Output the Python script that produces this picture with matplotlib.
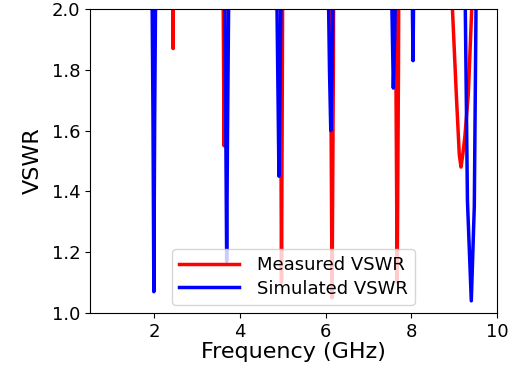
import matplotlib
matplotlib.use("Agg")
import matplotlib.pyplot as plt

# measured VSWR (values above 2.0 lie outside the view)
meas_f = [0.5, 2.40, 2.44, 2.47, 3.58, 3.61, 3.63, 3.65, 3.68,
          4.92, 4.95, 4.97, 4.99, 5.02, 6.09, 6.12, 6.15, 6.18, 6.21,
          7.61, 7.64, 7.67, 7.70, 7.73,
          8.90, 8.96, 9.05, 9.12, 9.16, 9.20, 9.25, 9.33, 9.41, 9.46, 10.0]
meas_v = [5.0, 3.0, 1.87, 3.0, 3.0, 2.0, 1.55, 2.0, 3.0,
          3.0, 1.8, 1.10, 1.8, 3.0, 3.0, 1.8, 1.05, 1.8, 3.0,
          3.0, 1.8, 1.10, 1.8, 3.0,
          2.4, 2.0, 1.72, 1.52, 1.48, 1.52, 1.58, 1.72, 2.0, 3.0, 5.0]

# simulated VSWR
sim_f = [0.5, 1.93, 1.97, 1.99, 2.01, 2.05, 3.62, 3.67, 3.69, 3.71, 3.76,
         4.84, 4.89, 4.91, 4.93, 4.98, 6.04, 6.09, 6.12, 6.15, 6.20,
         7.51, 7.56, 7.58, 7.61, 7.66, 8.00, 8.04, 8.07,
         9.22, 9.26, 9.31, 9.40, 9.47, 9.51, 9.56, 10.0]
sim_v = [5.0, 2.4, 1.65, 1.07, 1.65, 2.4, 2.4, 1.6, 1.17, 1.6, 2.4,
         2.3, 1.7, 1.45, 1.7, 2.3, 2.3, 1.8, 1.60, 1.8, 2.3,
         2.3, 1.9, 1.74, 1.9, 2.3, 2.3, 1.83, 2.3,
         2.6, 2.0, 1.37, 1.04, 1.35, 2.0, 2.6, 5.0]

fig = plt.figure(figsize=(5.1, 3.66), dpi=100)
ax = fig.add_axes([90 / 510, 53 / 366, 407 / 510, 304 / 366])

ax.plot(meas_f, meas_v, color="red", lw=2.5, label="Measured VSWR")
ax.plot(sim_f, sim_v, color="blue", lw=2.5, label="Simulated VSWR")

ax.set_xlim(0.5, 10)
ax.set_ylim(1.0, 2.0)
ax.set_xticks([2, 4, 6, 8, 10])
ax.set_yticks([1.0, 1.2, 1.4, 1.6, 1.8, 2.0])
ax.tick_params(labelsize=13)
ax.set_xlabel("Frequency (GHz)", fontsize=16, labelpad=1)
ax.set_ylabel("VSWR", fontsize=16, labelpad=6)
ax.legend(loc="lower center", fontsize=13, handlelength=3.3,
          handletextpad=1.0, borderaxespad=0.45, labelspacing=0.3)

fig.savefig("out.png", dpi=100)
